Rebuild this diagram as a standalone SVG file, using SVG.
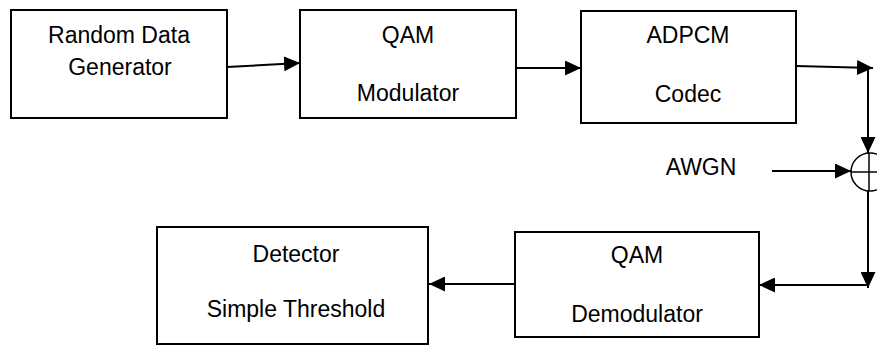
<svg xmlns="http://www.w3.org/2000/svg" width="877" height="345" viewBox="0 0 877 345">
<style>
.box{fill:#fff;stroke:#000;stroke-width:2}
.t{font-family:"Liberation Sans",Arial,sans-serif;font-size:23px;fill:#000;text-anchor:middle}
.c{fill:none;stroke:#000;stroke-width:2}
.ln{fill:none;stroke:#000;stroke-width:1.5}
</style>
<defs>
<marker id="ah" viewBox="0 0 16 15" refX="16" refY="7.5" markerWidth="16" markerHeight="15" markerUnits="userSpaceOnUse" orient="auto">
<path d="M0,0 L16,7.5 L0,15 Z" fill="#000"/>
</marker>
</defs>
<rect width="877" height="345" fill="#fff"/>
<g id="n1"><rect class="box" x="11" y="10" width="216" height="108"/><text class="t" x="119" y="43">Random Data</text><text class="t" x="120" y="75">Generator</text></g>
<g id="n2"><rect class="box" x="300" y="10" width="216" height="108"/><text class="t" x="408" y="43">QAM</text><text class="t" x="408" y="101">Modulator</text></g>
<g id="n3"><rect class="box" x="581" y="11" width="215" height="112"/><text class="t" x="688" y="43">ADPCM</text><text class="t" x="688" y="102">Codec</text></g>
<g id="n4"><rect class="box" x="515" y="232" width="244" height="105"/><text class="t" x="637" y="263">QAM</text><text class="t" x="637" y="322">Demodulator</text></g>
<g id="n5"><rect class="box" x="157" y="227" width="271" height="117"/><text class="t" x="296" y="262">Detector</text><text class="t" x="296" y="317">Simple Threshold</text></g>
<g id="sum"><circle cx="870" cy="172" r="19" class="ln"/><line class="ln" x1="851" y1="172" x2="889" y2="172"/><line class="ln" x1="869" y1="153" x2="869" y2="191"/></g>
<g id="awgn"><text class="t" x="701" y="175">AWGN</text></g>
<g id="connectors">
<line class="c" x1="227" y1="67" x2="300" y2="63" marker-end="url(#ah)"/>
<line class="c" x1="516" y1="68" x2="581" y2="68" marker-end="url(#ah)"/>
<line class="c" x1="796" y1="66" x2="873" y2="68" marker-end="url(#ah)"/>
<line class="c" x1="868" y1="67" x2="868" y2="153" marker-end="url(#ah)"/>
<line class="c" x1="772" y1="171" x2="851" y2="171" marker-end="url(#ah)"/>
<line class="c" x1="868" y1="191" x2="868" y2="288" marker-end="url(#ah)"/>
<line class="c" x1="868" y1="285" x2="759" y2="285" marker-end="url(#ah)"/>
<line class="c" x1="515" y1="284" x2="429" y2="284" marker-end="url(#ah)"/>
</g>
</svg>
